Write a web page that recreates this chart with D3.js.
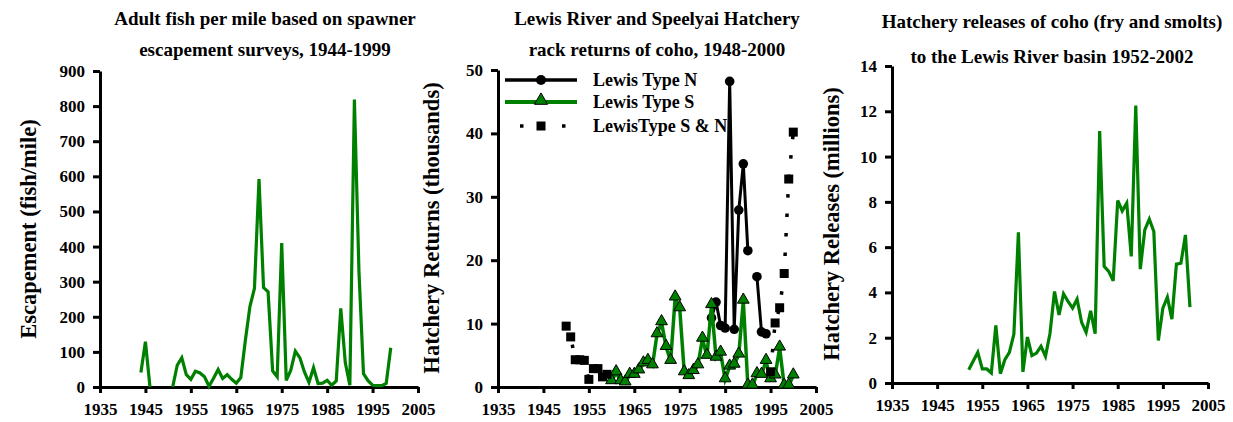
<!DOCTYPE html>
<html><head><meta charset="utf-8">
<script src="https://cdn.jsdelivr.net/npm/d3@7"></script>
<style>
html,body{margin:0;padding:0;background:#fff;}
svg{display:block;font-family:"Liberation Serif","Times New Roman",serif;font-weight:bold;}
</style></head>
<body><svg id="c" width="1233" height="422"></svg>
<script>
// ---------- DATA ----------
const xTicks = [1935,1945,1955,1965,1975,1985,1995,2005];

// Panel 1: escapement (fish/mile)
const escYears = [1944,1945,1946,1947,1948,1949,1950,1951,1952,1953,1954,1955,1956,1957,1958,1959,1960,1961,1962,1963,1964,1965,1966,1967,1968,1969,1970,1971,1972,1973,1974,1975,1976,1977,1978,1979,1980,1981,1982,1983,1984,1985,1986,1987,1988,1989,1990,1991,1992,1993,1994,1995,1996,1997,1998,1999];
const escValues = [41,129,0,null,null,null,null,0,62,83,35,22,45,40,29,2,25,50,24,35,22,11,27,133,229,281,592,283,271,46,29,410,19,48,102,83,43,13,55,10,11,19,5,17,224,69,5,819,330,38,18,5,4,4,10,112];
const escTicks = [0,100,200,300,400,500,600,700,800,900];

// Panel 2: hatchery returns (thousands)
const nYears = [1982,1983,1984,1985,1986,1987,1988,1989,1990,1991,1992,1993,1994];
const nValues = [10.9,13.4,9.7,9.3,48.2,9.1,27.9,35.2,21.5,null,17.4,8.7,8.4];
const sYears = [1960,1961,1962,1963,1964,1965,1966,1967,1968,1969,1970,1971,1972,1973,1974,1975,1976,1977,1978,1979,1980,1981,1982,1983,1984,1985,1986,1987,1988,1989,1990,1991,1992,1993,1994,1995,1996,1997,1998,1999,2000];
const sValues = [0.9,2.3,0.9,0.7,1.9,1.9,2.6,3.7,4.1,3.4,8.3,10.2,6.3,4.1,14.1,12.4,2.3,1.7,2.5,3.4,7.6,4.9,12.9,4.6,5.4,1.2,3.2,3.5,5.1,13.6,0.2,0.2,2.0,1.9,4.1,1.2,1.8,6.2,0.2,0.2,1.8];
const snYears = [1950,1951,1952,1953,1954,1955,1956,1957,1958,1959,1960,1995,1996,1997,1998,1999,2000];
const snValues = [9.6,7.9,4.3,4.3,4.2,1.2,2.9,2.9,1.6,2.0,null,2.4,10.1,12.5,17.9,32.8,40.2];
const retTicks = [0,10,20,30,40,50];
const legendLabels = ["Lewis Type N","Lewis Type S","LewisType S & N"];

// Panel 3: hatchery releases (millions)
const relYears = [1952,1953,1954,1955,1956,1957,1958,1959,1960,1961,1962,1963,1964,1965,1966,1967,1968,1969,1970,1971,1972,1973,1974,1975,1976,1977,1978,1979,1980,1981,1982,1983,1984,1985,1986,1987,1988,1989,1990,1991,1992,1993,1994,1995,1996,1997,1998,1999,2000,2001];
const relValues = [0.59,0.97,1.35,0.62,0.62,0.44,2.54,0.41,1.03,1.35,2.16,6.65,0.49,2.03,1.21,1.32,1.62,1.18,2.2,4.04,3.01,3.94,3.6,3.31,3.7,2.68,2.24,3.19,2.18,11.13,5.15,4.93,4.51,8.06,7.6,7.94,5.59,12.25,5.03,6.76,7.24,6.69,1.88,3.31,3.79,2.82,5.25,5.29,6.54,3.35];
const relTicks = [0,2,4,6,8,10,12,14];

// ---------- DRAWING ----------
const GREEN = "#008000";
const svg = d3.select("#c");

function zip(xs, ys){ return xs.map((x,i)=>({x:x,y:ys[i]})); }

function panel(o){
  const g = svg.append("g");
  const x = d3.scaleLinear().domain([1935,2005]).range([o.x0,o.x1]);
  const y = d3.scaleLinear().domain([0,o.ymax]).range([o.y0,o.y1]);
  const ax = g.append("g").attr("transform",`translate(0,${o.y0})`)
    .call(d3.axisBottom(x).tickValues(xTicks).tickFormat(d3.format("d")).tickSize(6).tickSizeOuter(0).tickPadding(10));
  const ay = g.append("g").attr("transform",`translate(${o.x0},0)`)
    .call(d3.axisLeft(y).tickValues(o.yticks).tickSize(7).tickSizeOuter(0).tickPadding(8));
  [ax,ay].forEach(a=>{
    a.selectAll("path,line").attr("stroke","#000").attr("stroke-width",3);
    a.selectAll("text").attr("fill","#000").attr("font-size",17).attr("font-weight","bold")
      .attr("font-family",'"Liberation Serif","Times New Roman",serif');
  });
  g.append("text").attr("transform",`translate(${o.lx},${o.ly}) rotate(-90)`)
    .attr("text-anchor","middle").attr("font-size",o.lfs||22.5).text(o.ylabel);
  o.title.forEach((t,i)=>{
    g.append("text").attr("x",o.tx).attr("y",o.ty[i]).attr("text-anchor","middle")
      .attr("font-size",19).text(t);
  });
  return {g,x,y};
}

// Panel 1
{
  const p = panel({x0:100,x1:418,y0:387,y1:71,ymax:900,yticks:escTicks,
    ylabel:"Escapement (fish/mile)",lx:36,ly:229,tx:265,ty:[25,56],
    title:["Adult fish per mile based on spawner","escapement surveys, 1944-1999"]});
  const line = d3.line().defined(d=>d.y!==null).x(d=>p.x(d.x)).y(d=>p.y(d.y));
  p.g.append("path").datum(zip(escYears,escValues)).attr("d",line)
    .attr("fill","none").attr("stroke",GREEN).attr("stroke-width",3.2).attr("stroke-linejoin","miter");
}

// Panel 2
{
  const p = panel({x0:498,x1:816,y0:387,y1:70,ymax:50,yticks:retTicks,
    ylabel:"Hatchery Returns (thousands)",lx:439,ly:228,tx:657,ty:[25,56],
    title:["Lewis River and Speelyai Hatchery","rack returns of coho, 1948-2000"]});
  const line = d3.line().defined(d=>d.y!==null).x(d=>p.x(d.x)).y(d=>p.y(d.y));
  const tri = d3.symbol().type(d3.symbolTriangle).size(60);
  const triL = d3.symbol().type(d3.symbolTriangle).size(75);
  const nData = zip(nYears,nValues), sData = zip(sYears,sValues), snData = zip(snYears,snValues);

  p.g.append("path").datum(nData).attr("d",line).attr("fill","none").attr("stroke","#000").attr("stroke-width",3);
  p.g.selectAll(".nc").data(nData.filter(d=>d.y!==null)).join("circle")
    .attr("cx",d=>p.x(d.x)).attr("cy",d=>p.y(d.y)).attr("r",4.8).attr("fill","#000");

  p.g.append("path").datum(sData).attr("d",line).attr("fill","none").attr("stroke",GREEN).attr("stroke-width",3.5);
  p.g.selectAll(".st").data(sData).join("path").attr("d",tri)
    .attr("transform",d=>`translate(${p.x(d.x)},${p.y(d.y)-1})`)
    .attr("fill",GREEN).attr("stroke","#000").attr("stroke-width",1);

  p.g.append("path").datum(snData).attr("d",line).attr("fill","none").attr("stroke","#000")
    .attr("stroke-width",3.5).attr("stroke-dasharray","3.5,16");
  p.g.selectAll(".sq").data(snData.filter(d=>d.y!==null)).join("rect")
    .attr("x",d=>p.x(d.x)-4.5).attr("y",d=>p.y(d.y)-4.5).attr("width",9).attr("height",9).attr("fill","#000");

  // legend
  const lg = p.g.append("g");
  const rows = [80,102,126];
  lg.append("line").attr("x1",505).attr("x2",577).attr("y1",rows[0]).attr("y2",rows[0]).attr("stroke","#000").attr("stroke-width",3.5);
  lg.append("circle").attr("cx",541).attr("cy",rows[0]).attr("r",5).attr("fill","#000");
  lg.append("line").attr("x1",505).attr("x2",577).attr("y1",rows[1]).attr("y2",rows[1]).attr("stroke",GREEN).attr("stroke-width",4);
  lg.append("path").attr("d",triL).attr("transform",`translate(541,${rows[1]-1.5})`).attr("fill",GREEN).attr("stroke","#000").attr("stroke-width",1);
  lg.append("line").attr("x1",520).attr("x2",570).attr("y1",rows[2]).attr("y2",rows[2]).attr("stroke","#000")
    .attr("stroke-width",3.5).attr("stroke-dasharray","3.5,17.5");
  lg.append("rect").attr("x",536.5).attr("y",rows[2]-4.5).attr("width",9).attr("height",9).attr("fill","#000");
  legendLabels.forEach((t,i)=>{
    lg.append("text").attr("x",593).attr("y",rows[i]+6).attr("font-size",18).text(t);
  });
}

// Panel 3
{
  const p = panel({x0:892,x1:1208,y0:383,y1:66,ymax:14,yticks:relTicks,
    ylabel:"Hatchery Releases (millions)",lx:839,ly:224,tx:1052,ty:[28,63],
    title:["Hatchery releases of coho (fry and smolts)","to the Lewis River basin 1952-2002"]});
  const line = d3.line().x(d=>p.x(d.x)).y(d=>p.y(d.y));
  p.g.append("path").datum(zip(relYears,relValues)).attr("d",line)
    .attr("fill","none").attr("stroke",GREEN).attr("stroke-width",3.2);
}
</script>
</body></html>
